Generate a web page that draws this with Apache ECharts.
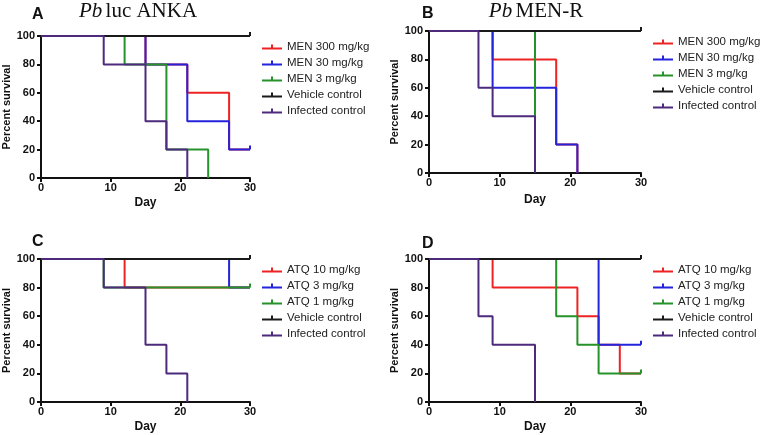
<!DOCTYPE html>
<html>
<head>
<meta charset="utf-8">
<script src="https://cdn.jsdelivr.net/npm/echarts@6/dist/echarts.min.js"></script>
<style>
html,body{margin:0;padding:0;background:#fff;}
#chart{width:760px;height:435px;}
</style>
</head>
<body>
<div id="chart"></div>
<script>
// ---- Data: [day, percent survival, censored(1)] ----
const legendAB = ['MEN 300 mg/kg', 'MEN 30 mg/kg', 'MEN 3 mg/kg', 'Vehicle control', 'Infected control'];
const legendCD = ['ATQ 10 mg/kg', 'ATQ 3 mg/kg', 'ATQ 1 mg/kg', 'Vehicle control', 'Infected control'];
const xTicks = [0, 10, 20, 30];
const yTicks = [0, 20, 40, 60, 80, 100];

// Panel A: Pb luc ANKA
const A_men300 = [[0, 100], [15, 80], [21, 60], [27, 20], [30, 20]];
const A_men30 = [[0, 100], [15, 80], [21, 40], [27, 20], [30, 20, 1]];
const A_men3 = [[0, 100], [12, 80], [18, 20], [24, 0]];
const A_vehicle = [[0, 100], [30, 100, 1]];
const A_infected = [[0, 100], [9, 80], [15, 40], [18, 20], [21, 0]];

// Panel B: Pb MEN-R
const B_men300 = [[0, 100], [9, 80], [18, 20], [21, 0]];
const B_men30 = [[0, 100], [9, 60], [18, 20], [21, 0]];
const B_men3 = [[0, 100], [15, 0]];
const B_vehicle = [[0, 100], [30, 100, 1]];
const B_infected = [[0, 100], [7, 60], [9, 40], [15, 0]];

// Panel C
const C_atq10 = [[0, 100], [12, 80], [30, 80]];
const C_atq3 = [[0, 100], [27, 80], [30, 80]];
const C_atq1 = [[0, 100], [9, 80], [30, 80, 1]];
const C_vehicle = [[0, 100], [30, 100, 1]];
const C_infected = [[0, 100], [9, 80], [15, 40], [18, 20], [21, 0]];

// Panel D
const D_atq10 = [[0, 100], [9, 80], [21, 60], [24, 40], [27, 20], [30, 20]];
const D_atq3 = [[0, 100], [24, 40], [30, 40, 1]];
const D_atq1 = [[0, 100], [18, 60], [21, 40], [24, 20], [30, 20, 1]];
const D_vehicle = [[0, 100], [30, 100, 1]];
const D_infected = [[0, 100], [7, 60], [9, 40], [15, 0]];

const colors = ['#ee2424', '#2424dc', '#26922a', '#1a1a1a', '#4d2a7c'];

const panels = [
  {grid: {left: 39, top: 36, width: 211, height: 142}, names: legendAB,
   data: [A_men300, A_men30, A_men3, A_vehicle, A_infected], legend: {left: 262, top: 40}, dayGap: 19},
  {grid: {left: 429, top: 31, width: 212, height: 142}, names: legendAB,
   data: [B_men300, B_men30, B_men3, B_vehicle, B_infected], legend: {left: 653, top: 35}, dayGap: 21},
  {grid: {left: 39, top: 259, width: 211, height: 143}, names: legendCD,
   data: [C_atq10, C_atq3, C_atq1, C_vehicle, C_infected], legend: {left: 262, top: 263}, dayGap: 19},
  {grid: {left: 429, top: 259, width: 212, height: 143}, names: legendCD,
   data: [D_atq10, D_atq3, D_atq1, D_vehicle, D_infected], legend: {left: 653, top: 263}, dayGap: 19}
];

const FONT = 'Liberation Sans, Arial, sans-serif';
const axisLine = {show: true, lineStyle: {color: '#111', width: 2}};
const axisTick = {show: true, length: 4, inside: false, lineStyle: {color: '#111', width: 2}};

const grids = [], xAxes = [], yAxes = [], series = [], legends = [];
panels.forEach((p, i) => {
  grids.push(Object.assign({containLabel: false}, p.grid));
  xAxes.push({
    type: 'value', gridIndex: i, min: xTicks[0], max: xTicks[xTicks.length - 1],
    interval: xTicks[1] - xTicks[0],
    name: 'Day', nameLocation: 'middle', nameGap: p.dayGap,
    nameTextStyle: {fontFamily: FONT, fontWeight: 'bold', fontSize: 12, color: '#111'},
    axisLine: axisLine, axisTick: axisTick, splitLine: {show: false},
    axisLabel: {margin: 4, fontFamily: FONT, fontWeight: 'bold', fontSize: 11, color: '#111'}
  });
  yAxes.push({
    type: 'value', gridIndex: i, min: yTicks[0], max: yTicks[yTicks.length - 1],
    interval: yTicks[1] - yTicks[0],
    name: 'Percent survival', nameLocation: 'middle', nameGap: 29, nameRotate: 90,
    nameTextStyle: {fontFamily: FONT, fontWeight: 'bold', fontSize: 11, color: '#111'},
    axisLine: axisLine, axisTick: axisTick, splitLine: {show: false},
    axisLabel: {margin: 6, fontFamily: FONT, fontWeight: 'bold', fontSize: 11, color: '#111'}
  });
  p.data.forEach((d, k) => {
    series.push({
      type: 'line', name: p.names[k], xAxisIndex: i, yAxisIndex: i,
      step: 'end', data: d, color: colors[k],
      lineStyle: {width: 2, color: colors[k]},
      symbol: 'rect', showSymbol: true, showAllSymbol: true,
      symbolSize: (v) => (v[2] ? [2, 4] : 0),
      symbolOffset: [0, '-50%'],
      itemStyle: {color: colors[k]},
      silent: true, animation: false
    });
  });
  legends.push({
    orient: 'vertical', left: p.legend.left, top: p.legend.top, padding: 0,
    data: p.names, itemWidth: 20, itemHeight: 14, itemGap: 2,
    icon: 'path://M0,3L20,3L20,5L0,5Z M9,0L11,0L11,3L9,3Z',
    textStyle: {fontFamily: FONT, fontSize: 11.5, color: '#222', lineHeight: 14},
    selectedMode: false
  });
});

const titleStyle = {fontFamily: FONT, fontWeight: 'bold', fontSize: 16, fill: '#111'};
const serif = 'Liberation Serif, Times New Roman, serif';
function richTitle(rest) {
  return {
    text: '{i|Pb} {n|' + rest + '}',
    rich: {
      i: {fontFamily: serif, fontStyle: 'italic', fontSize: 21, fill: '#111'},
      n: {fontFamily: serif, fontSize: 21, fill: '#111'}
    },
    align: 'center', verticalAlign: 'middle'
  };
}

const chart = echarts.init(document.getElementById('chart'), null, {renderer: 'canvas'});
chart.setOption({
  animation: false,
  backgroundColor: '#fff',
  grid: grids, xAxis: xAxes, yAxis: yAxes, series: series, legend: legends,
  graphic: [
    {type: 'text', left: 32, top: 7, style: Object.assign({text: 'A'}, titleStyle)},
    {type: 'text', left: 422, top: 6, style: Object.assign({text: 'B'}, titleStyle)},
    {type: 'text', left: 32, top: 234, style: Object.assign({text: 'C'}, titleStyle)},
    {type: 'text', left: 422, top: 236, style: Object.assign({text: 'D'}, titleStyle)},
    {type: 'text', x: 138, y: 11, style: richTitle('luc ANKA')},
    {type: 'text', x: 536, y: 11, style: richTitle('MEN-R')}
  ]
});
</script>
</body>
</html>
